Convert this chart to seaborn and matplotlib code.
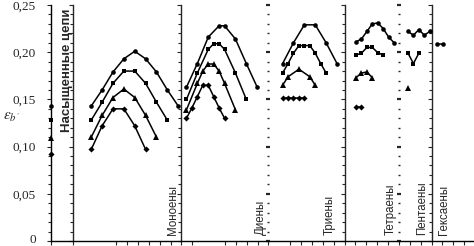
import numpy as np
import pandas as pd
import seaborn as sns
import matplotlib.pyplot as plt
import matplotlib.transforms as mtransforms
from matplotlib.ticker import MultipleLocator, FixedLocator

# ---- data (x in axis tick units, y = epsilon) ----
sat_x = [0]
sat_1 = [0.143]
sat_2 = [0.128]
sat_3 = [0.109]
sat_4 = [0.092]

mono_x0 = 3.7
mono_1 = [0.143, 0.160, 0.179, 0.193, 0.201, 0.193, 0.179, 0.160, 0.143]
mono_2 = [0.128, 0.147, 0.167, 0.180, 0.180, 0.167, 0.147, 0.128]
mono_3 = [0.110, 0.133, 0.152, 0.161, 0.152, 0.133, 0.110]
mono_4 = [0.097, 0.122, 0.140, 0.140, 0.122, 0.097]

di_x0 = 12.46
di_j1 = [0, 2, 4, 6, 7, 9, 11, 13]
di_1 = [0.163, 0.188, 0.216, 0.228, 0.228, 0.214, 0.188, 0.163]
di_j2 = [0, 2, 4, 5, 6, 7, 9, 11]
di_2 = [0.150, 0.178, 0.203, 0.209, 0.209, 0.203, 0.178, 0.150]
di_j3 = [0, 2, 3, 4, 5, 6, 7, 9]
di_3 = [0.139, 0.167, 0.180, 0.1875, 0.1875, 0.180, 0.167, 0.139]
di_j4 = [0, 1, 2, 3, 4, 5, 6, 7]
di_4 = [0.130, 0.141, 0.153, 0.165, 0.165, 0.153, 0.141, 0.130]

tri_x0 = 21.3
tri_j1 = [0, 2, 4, 6, 8, 10]
tri_1 = [0.188, 0.210, 0.229, 0.229, 0.210, 0.188]
tri_j2 = [0, 1, 2, 3, 4, 5, 6, 7, 8]
tri_2 = [0.178, 0.188, 0.199, 0.207, 0.207, 0.207, 0.199, 0.188, 0.178]
tri_j3 = [0, 1, 3, 5, 6]
tri_3 = [0.165, 0.174, 0.182, 0.174, 0.165]
tri_j4 = [0, 1, 2, 3, 4]
tri_4 = [0.152, 0.152, 0.152, 0.152, 0.152]

tet_x0 = 28.05
tet_1 = [0.211, 0.214, 0.222, 0.230, 0.231, 0.225, 0.216, 0.210]
tet_2 = [0.197, 0.199, 0.205, 0.205, 0.1995, 0.197]
tet_3 = [0.173, 0.178, 0.179, 0.173]
tet_4 = [0.142, 0.142]

pen_x0 = 32.83
pen_1 = [0.222, 0.218, 0.224, 0.218, 0.222]
pen_2 = [0.199, 0.188, 0.199]
pen_3 = [0.162]

hex_x0 = 35.52
hex_1 = [0.209, 0.209]

group_names = ["Насыщенные цепи", "Моноены", "Диены", "Триены",
               "Тетраены", "Пентаены", "Гексаены"]
solid_sep = [2, 12, 27, 35]
dotted_sep = [20, 32]
x_ticks = [0, 2] + list(range(6, 14)) + list(range(16, 21)) + list(range(22, 39))

markers = ["o", "s", "^", "D"]
msizes = [3.3, 3.3, 4.0, 3.1]

# collect series: (x list, y list, style index)
series = []
for i, y in enumerate([sat_1, sat_2, sat_3, sat_4]):
    series.append((sat_x, y, i))
for i, y in enumerate([mono_1, mono_2, mono_3, mono_4]):
    series.append(([mono_x0 + k for k in range(len(y))], y, i))
for i, (j, y) in enumerate([(di_j1, di_1), (di_j2, di_2), (di_j3, di_3), (di_j4, di_4)]):
    series.append(([di_x0 + 0.5 * k for k in j], y, i))
for i, (j, y) in enumerate([(tri_j1, tri_1), (tri_j2, tri_2), (tri_j3, tri_3), (tri_j4, tri_4)]):
    series.append(([tri_x0 + 0.5 * k for k in j], y, i))
for i, y in enumerate([tet_1, tet_2, tet_3, tet_4]):
    series.append(([tet_x0 + 0.5 * k for k in range(len(y))], y, i))
for i, y in enumerate([pen_1, pen_2, pen_3]):
    series.append(([pen_x0 + 0.5 * k for k in range(len(y))], y, i))
series.append(([hex_x0 + 0.5 * k for k in range(len(hex_1))], hex_1, 0))

sns.set_style("white")
plt.rcParams['font.family'] = ['Liberation Sans', 'DejaVu Sans']
plt.rcParams['mathtext.fontset'] = 'stix'

fig = plt.figure(figsize=(4.74, 2.46), dpi=100)
ax = fig.add_axes([51 / 474, 5 / 246, 423 / 474, 236 / 246])

for xs, ys, s in series:
    df = pd.DataFrame({"x": xs, "y": ys})
    sns.lineplot(data=df, x="x", y="y", ax=ax, color="black", linewidth=1.1,
                 marker=markers[s], markersize=msizes[s], markeredgewidth=0,
                 estimator=None, sort=False, clip_on=False, zorder=5)

ax.set_xlim(0, 38.9)
ax.set_ylim(0, 0.25)
ax.set_xlabel("")
ax.set_ylabel("")

for sp in ["top", "right"]:
    ax.spines[sp].set_visible(False)
for sp in ["left", "bottom"]:
    ax.spines[sp].set_color("black")
    ax.spines[sp].set_linewidth(1.0)

ax.yaxis.set_major_locator(MultipleLocator(0.05))
ax.yaxis.set_minor_locator(MultipleLocator(0.01))
ax.set_yticks(np.arange(0, 0.26, 0.05))
ax.set_yticklabels(["0"] + [f"{v:.2f}".replace(".", ",") for v in np.arange(0.05, 0.26, 0.05)],
                   family="Liberation Serif", fontsize=9.5)
ax.tick_params(axis="y", which="major", direction="out", length=3, width=0.8, pad=8, left=True)
ax.tick_params(axis="y", which="minor", direction="out", length=2, width=0.8, left=True)
# nudge the "0" label up a little so it stays inside the image
zero_lbl = ax.get_yticklabels()[0]
zero_lbl.set_transform(zero_lbl.get_transform() +
                       mtransforms.ScaledTranslation(0, 1.5 / 72, fig.dpi_scale_trans))

ax.xaxis.set_major_locator(FixedLocator(x_ticks))
ax.set_xticklabels([])
ax.tick_params(axis="x", which="major", direction="out", length=3, width=0.8, bottom=True)

# separators drawn as extra y axes
for pos in solid_sep + dotted_sep:
    sec = ax.secondary_yaxis(pos, transform=ax.transData)
    sec.yaxis.set_major_locator(MultipleLocator(0.05))
    sec.yaxis.set_minor_locator(MultipleLocator(0.01))
    sec.set_yticklabels([])
    if pos in solid_sep:
        sec.tick_params(which="major", direction="in", length=3, width=0.8)
        sec.tick_params(which="minor", direction="in", length=2, width=0.8)
        for sp in sec.spines.values():
            sp.set_linewidth(1.0)
    else:
        for sp in sec.spines.values():
            sp.set_visible(False)
        sec.tick_params(which="major", direction="inout", length=3, width=1.6)
        sec.tick_params(which="minor", direction="inout", length=2, width=1.0)

# group labels
ax.text(1.45, 0.246, group_names[0], rotation=90, ha="center", va="top",
        fontsize=9.5, fontweight="bold")
label_pos = [11.2, 19.3, 25.6, 31.2, 34.1, 36.1]
for name, xp in zip(group_names[1:], label_pos):
    ax.text(xp, 0.006, name, rotation=90, ha="center", va="bottom", fontsize=8.3)

fig.text(12 / 474, 1 - 117 / 246, r"$\varepsilon_{b'}$",
         fontsize=11, ha="center", va="center")

fig.savefig("out.png", dpi=100)
